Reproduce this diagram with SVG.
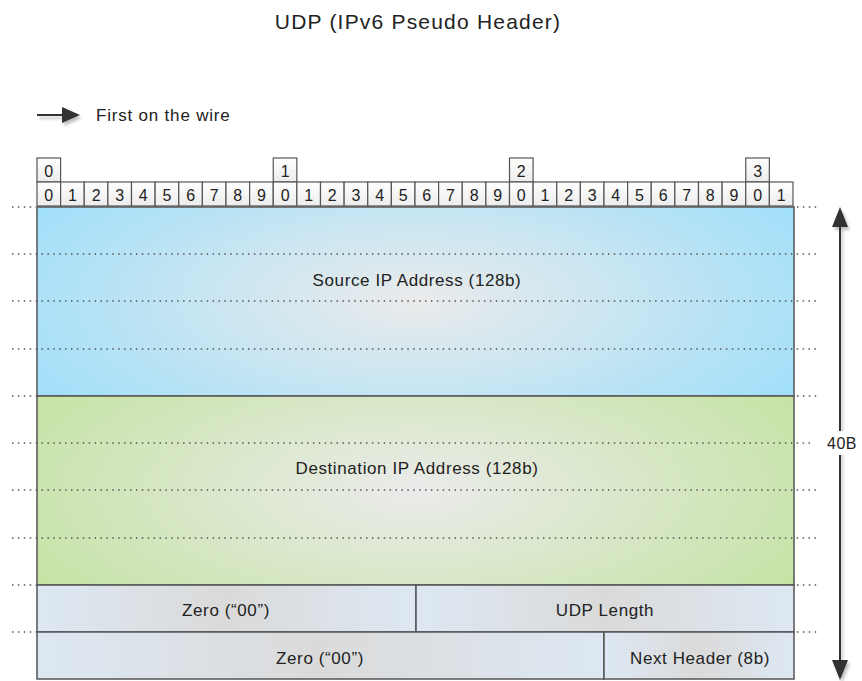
<svg xmlns="http://www.w3.org/2000/svg" width="862" height="681" viewBox="0 0 862 681">
<defs>
<radialGradient id="gSrc" cx="0.5" cy="0.5" r="0.6" gradientTransform="translate(0.5 0.5) scale(1 1.6) translate(-0.5 -0.5)">
<stop offset="0" stop-color="#ebebeb"/><stop offset="1" stop-color="#9fdffa"/>
</radialGradient>
<radialGradient id="gDst" cx="0.5" cy="0.5" r="0.6" gradientTransform="translate(0.5 0.5) scale(1 1.6) translate(-0.5 -0.5)">
<stop offset="0" stop-color="#ebebeb"/><stop offset="1" stop-color="#c5e3a3"/>
</radialGradient>
<linearGradient id="gRow" x1="0" y1="0" x2="1" y2="0">
<stop offset="0" stop-color="#dde8f3"/><stop offset="0.5" stop-color="#dadada"/><stop offset="1" stop-color="#dde8f3"/>
</linearGradient>
<linearGradient id="gCell" x1="0" y1="0" x2="0" y2="1">
<stop offset="0" stop-color="#ffffff"/><stop offset="1" stop-color="#ececec"/>
</linearGradient>
<filter id="sh" x="-20%" y="-20%" width="140%" height="160%">
<feGaussianBlur in="SourceAlpha" stdDeviation="1.5"/>
<feOffset dx="2" dy="3" result="b"/>
<feComponentTransfer><feFuncA type="linear" slope="0.25"/></feComponentTransfer>
<feMerge><feMergeNode/><feMergeNode in="SourceGraphic"/></feMerge>
</filter>
</defs>
<style>
text{font-family:"Liberation Sans","DejaVu Sans",sans-serif;fill:#222}
.t{font-size:17px;text-anchor:middle;letter-spacing:0.6px}
.d{font-size:16px;text-anchor:middle}
.cell{fill:url(#gCell);stroke:#555;stroke-width:1.2}
.box{stroke:#555;stroke-width:1.5}
.dot{stroke:#555;stroke-width:1.3;stroke-dasharray:1.5 4.4;fill:none}
</style>
<rect width="862" height="681" fill="#fff"/>
<text x="418" y="29" font-size="21" text-anchor="middle" letter-spacing="1.2">UDP (IPv6 Pseudo Header)</text>

<g id="legend">
<g filter="url(#sh)">
<line x1="37" y1="115" x2="66" y2="115" stroke="#333" stroke-width="2"/>
<path d="M62,107 L80,115 L62,123 z" fill="#333"/>
</g>
<text x="96" y="121" font-size="17" letter-spacing="0.8">First on the wire</text>
</g>

<g id="bitHeader">
<rect class="cell" x="37" y="158" width="23.6" height="24"/>
<rect class="cell" x="273.25" y="158" width="23.6" height="24"/>
<rect class="cell" x="509.5" y="158" width="23.6" height="24"/>
<rect class="cell" x="745.75" y="158" width="23.6" height="24"/>
<text class="d" x="48.8" y="177">0</text>
<text class="d" x="285.1" y="177">1</text>
<text class="d" x="521.3" y="177">2</text>
<text class="d" x="757.6" y="177">3</text>
<g>
<rect class="cell" x="37" y="182" width="23.625" height="24"/><rect class="cell" x="60.625" y="182" width="23.625" height="24"/><rect class="cell" x="84.25" y="182" width="23.625" height="24"/><rect class="cell" x="107.875" y="182" width="23.625" height="24"/><rect class="cell" x="131.5" y="182" width="23.625" height="24"/><rect class="cell" x="155.125" y="182" width="23.625" height="24"/><rect class="cell" x="178.75" y="182" width="23.625" height="24"/><rect class="cell" x="202.375" y="182" width="23.625" height="24"/><rect class="cell" x="226" y="182" width="23.625" height="24"/><rect class="cell" x="249.625" y="182" width="23.625" height="24"/>
<rect class="cell" x="273.25" y="182" width="23.625" height="24"/><rect class="cell" x="296.875" y="182" width="23.625" height="24"/><rect class="cell" x="320.5" y="182" width="23.625" height="24"/><rect class="cell" x="344.125" y="182" width="23.625" height="24"/><rect class="cell" x="367.75" y="182" width="23.625" height="24"/><rect class="cell" x="391.375" y="182" width="23.625" height="24"/><rect class="cell" x="415" y="182" width="23.625" height="24"/><rect class="cell" x="438.625" y="182" width="23.625" height="24"/><rect class="cell" x="462.25" y="182" width="23.625" height="24"/><rect class="cell" x="485.875" y="182" width="23.625" height="24"/>
<rect class="cell" x="509.5" y="182" width="23.625" height="24"/><rect class="cell" x="533.125" y="182" width="23.625" height="24"/><rect class="cell" x="556.75" y="182" width="23.625" height="24"/><rect class="cell" x="580.375" y="182" width="23.625" height="24"/><rect class="cell" x="604" y="182" width="23.625" height="24"/><rect class="cell" x="627.625" y="182" width="23.625" height="24"/><rect class="cell" x="651.25" y="182" width="23.625" height="24"/><rect class="cell" x="674.875" y="182" width="23.625" height="24"/><rect class="cell" x="698.5" y="182" width="23.625" height="24"/><rect class="cell" x="722.125" y="182" width="23.625" height="24"/>
<rect class="cell" x="745.75" y="182" width="23.625" height="24"/><rect class="cell" x="769.375" y="182" width="23.625" height="24"/>
</g>
<g class="digits">
<text class="d" x="48.8" y="201">0</text><text class="d" x="72.4" y="201">1</text><text class="d" x="96.1" y="201">2</text><text class="d" x="119.7" y="201">3</text><text class="d" x="143.3" y="201">4</text><text class="d" x="166.9" y="201">5</text><text class="d" x="190.6" y="201">6</text><text class="d" x="214.2" y="201">7</text><text class="d" x="237.8" y="201">8</text><text class="d" x="261.4" y="201">9</text>
<text class="d" x="285.1" y="201">0</text><text class="d" x="308.7" y="201">1</text><text class="d" x="332.3" y="201">2</text><text class="d" x="355.9" y="201">3</text><text class="d" x="379.6" y="201">4</text><text class="d" x="403.2" y="201">5</text><text class="d" x="426.8" y="201">6</text><text class="d" x="450.4" y="201">7</text><text class="d" x="474.1" y="201">8</text><text class="d" x="497.7" y="201">9</text>
<text class="d" x="521.3" y="201">0</text><text class="d" x="544.9" y="201">1</text><text class="d" x="568.6" y="201">2</text><text class="d" x="592.2" y="201">3</text><text class="d" x="615.8" y="201">4</text><text class="d" x="639.4" y="201">5</text><text class="d" x="663.1" y="201">6</text><text class="d" x="686.7" y="201">7</text><text class="d" x="710.3" y="201">8</text><text class="d" x="733.9" y="201">9</text>
<text class="d" x="757.6" y="201">0</text><text class="d" x="781.2" y="201">1</text>
</g>
</g>

<g id="srcAddr">
<rect class="box" x="37" y="207" width="757" height="189" fill="url(#gSrc)"/>
<text class="t" x="417" y="286">Source IP Address (128b)</text>
</g>
<g id="dstAddr">
<rect class="box" x="37" y="396" width="757" height="189" fill="url(#gDst)"/>
<text class="t" x="417" y="474">Destination IP Address (128b)</text>
</g>
<g id="zero1">
<rect class="box" x="37" y="585" width="379" height="47" fill="url(#gRow)"/>
<text class="t" x="226" y="616">Zero (“00”)</text>
</g>
<g id="udpLength">
<rect class="box" x="416" y="585" width="378" height="47" fill="url(#gRow)"/>
<text class="t" x="605" y="616">UDP Length</text>
</g>
<g id="zero2">
<rect class="box" x="37" y="632" width="567" height="47" fill="url(#gRow)"/>
<text class="t" x="320" y="664">Zero (“00”)</text>
</g>
<g id="nextHeader">
<rect class="box" x="604" y="632" width="190" height="47" fill="url(#gRow)"/>
<text class="t" x="700" y="664">Next Header (8b)</text>
</g>

<g id="connectors">
<path class="dot" d="M12,207H36 M797,207H818 M12,254H818 M12,301H818 M12,349H818 M12,396H36 M797,396H818 M12,443H814 M12,490H818 M12,538H818 M12,585H36 M797,585H818 M12,632H36 M797,632H818"/>
<g filter="url(#sh)">
<line x1="840" y1="224" x2="840" y2="664" stroke="#333" stroke-width="2"/>
<path d="M832,227 L840,207 L848,227 z" fill="#333"/>
<path d="M832,660 L840,680 L848,660 z" fill="#333"/>
</g>
<rect x="823" y="431" width="38" height="24" fill="#fff"/>
<text x="842" y="449" font-size="16" text-anchor="middle" letter-spacing="0.5">40B</text>
</g>
</svg>
